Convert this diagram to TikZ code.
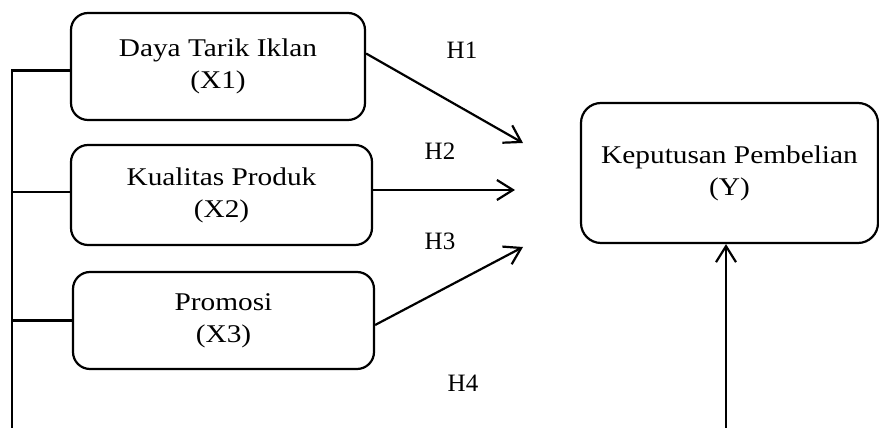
\documentclass[tikz,border=0pt]{standalone}
\usepackage{fontspec}
\setmainfont{Liberation Serif}
\newfontfamily\boxfont[FakeStretch=1.15]{Liberation Serif}
\usetikzlibrary{arrows.meta}
\begin{document}
\begin{tikzpicture}[x=1pt,y=1pt,
  line width=2.2pt,
  var/.style={draw, rounded corners=17pt, align=center, inner sep=0pt,
    font=\boxfont\fontsize{25.5}{32}\selectfont},
  hlab/.style={font=\fontsize{25}{30}\selectfont, inner sep=0pt},
  arr/.style={-{Straight Barb[length=16pt,width=20pt,line width=2.2pt]}}
]
\useasboundingbox (0,0) rectangle (879,428);
% boxes
\node[var, minimum width=294pt, minimum height=107pt] (x1) at (218,361.5) {Daya Tarik Iklan\\(X1)};
\node[var, minimum width=301pt, minimum height=100pt] (x2) at (221.5,233) {Kualitas Produk\\(X2)};
\node[var, minimum width=301pt, minimum height=97pt] (x3) at (223.5,107.5) {Promosi\\(X3)};
\node[var, minimum width=297pt, minimum height=140pt, rounded corners=20pt] (y) at (729.5,255) {Keputusan Pembelian\\(Y)};
% labels
\node[hlab] (h1) at (462,378) {H1};
\node[hlab] (h2) at (440,277) {H2};
\node[hlab] (h3) at (440,187) {H3};
\node[hlab] (h4) at (463,45) {H4};
% coordinates
\coordinate (spine) at (12,0);
\coordinate (t1) at (523,285);
\coordinate (t2) at (515,238);
\coordinate (t3) at (523,181);
\coordinate (b4) at (726,0);
% spine lines
\draw ([yshift=-4pt]x1.west) -| (spine);
\draw ([yshift=3pt]x2.west) -- ([yshift=3pt]x2.west -| spine);
\draw (x3.west) -- (x3.west -| spine);
% arrows
\draw[arr] ([yshift=13pt]x1.east) -- (t1);
\draw[arr] (x2.east |- t2) -- (t2);
\draw[arr] ([yshift=-4.5pt]x3.east) -- (t3);
\draw[arr] (b4) -- (b4 |- y.south);
\end{tikzpicture}
\end{document}
